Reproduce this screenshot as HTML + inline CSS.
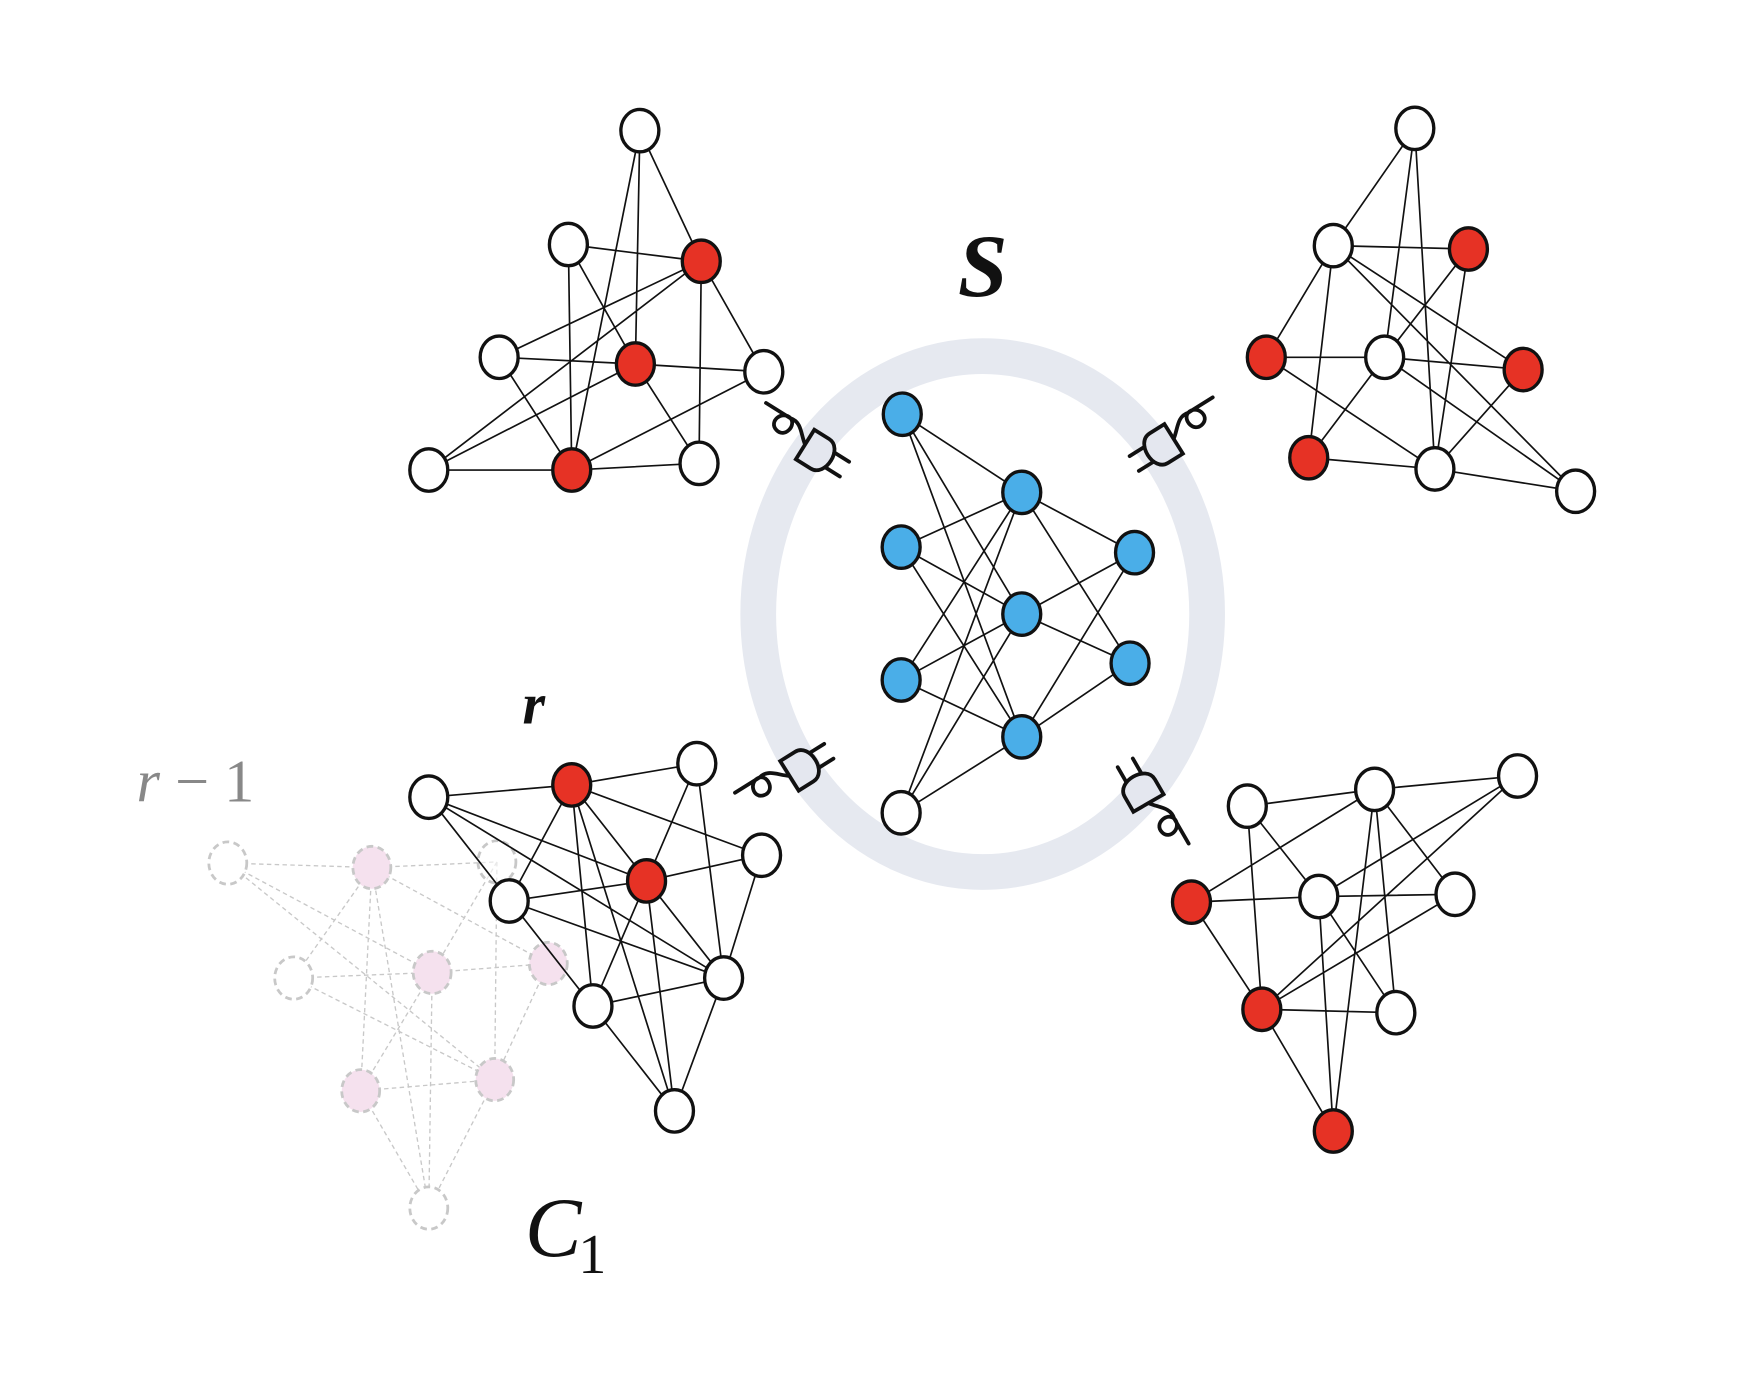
<!DOCTYPE html>
<html><head><meta charset="utf-8"><style>html,body{margin:0;padding:0;background:#fff}svg{display:block}</style></head>
<body>
<svg width="1742" height="1380" viewBox="0 0 1560 1236" preserveAspectRatio="none" xmlns="http://www.w3.org/2000/svg">
<defs>
<g id="plug" fill="none" stroke="#111" stroke-width="2.6" stroke-linecap="round">
<path d="M-48,-10 L-28,-10 M-28,-10 C-36,-12 -40,0 -32,2 C-24,4 -22,-8 -28,-10 C-20,-12 -16,-4 -10,0"/>
<path d="M-10,-12 L2,-12 C14,-12 14,12 2,12 L-10,12 Z" fill="#e4e7ef"/>
<path d="M10,-6 L22,-6 M10,6 L22,6"/>
</g>
</defs>
<ellipse cx="880" cy="550" rx="201" ry="231" fill="none" stroke="#e6e9f0" stroke-width="32"/>

<g stroke="#c8c8c8" stroke-width="1.2" stroke-dasharray="4,3" fill="none">
<path d="M204,773L333,777M204,773L387,871M204,773L443,967M333,777L445,772M333,777L263,876M333,777L323,977M333,777L384,1082M333,777L491,863M445,772L387,871M445,772L443,967M263,876L387,871M263,876L443,967M387,871L491,863M387,871L323,977M387,871L384,1082M491,863L443,967M323,977L443,967M443,967L384,1082M323,977L384,1082"/>
</g>
<g stroke="#c8c8c8" stroke-width="2.5" stroke-dasharray="6,4">
<ellipse cx="204" cy="773" rx="17" ry="19" fill="#fff"/>
<ellipse cx="333" cy="777" rx="17" ry="19" fill="#f5e1ee"/>
<ellipse cx="445" cy="772" rx="17" ry="19" fill="#fff" fill-opacity="0.6"/>
<ellipse cx="263" cy="876" rx="17" ry="19" fill="#fff"/>
<ellipse cx="387" cy="871" rx="17" ry="19" fill="#f5e1ee"/>
<ellipse cx="491" cy="863" rx="17" ry="19" fill="#f5e1ee"/>
<ellipse cx="323" cy="977" rx="17" ry="19" fill="#f5e1ee"/>
<ellipse cx="443" cy="967" rx="17" ry="19" fill="#f5e1ee"/>
<ellipse cx="384" cy="1082" rx="17" ry="19" fill="#fff"/>
</g>

<g stroke="#111" stroke-width="1.5" fill="none">
<path d="M573,117L628,234M573,117L569,326M573,117L512,421M509,219L628,234M509,219L512,421M509,219L569,326M628,234L447,320M628,234L384,421M628,234L626,415M628,234L684,333M447,320L569,326M447,320L512,421M569,326L384,421M569,326L684,333M569,326L626,415M384,421L512,421M512,421L626,415M512,421L684,333"/>
<path d="M1267,115L1194,220M1267,115L1240,320M1267,115L1285,420M1194,220L1315,223M1194,220L1172,410M1194,220L1134,320M1194,220L1364,331M1194,220L1411,440M1315,223L1285,420M1315,223L1240,320M1134,320L1240,320M1134,320L1285,420M1240,320L1172,410M1240,320L1364,331M1240,320L1411,440M1364,331L1285,420M1172,410L1285,420M1285,420L1411,440"/>
<path d="M808,371L915,441M808,371L915,550M808,371L915,660M807,490L915,441M807,490L915,550M807,490L915,660M807,609L915,441M807,609L915,550M807,609L915,660M807,728L915,441M807,728L915,550M807,728L915,660M915,441L1016,495M915,441L1012,594M915,550L1016,495M915,550L1012,594M915,660L1016,495M915,660L1012,594"/>
<path d="M384,714L512,703M384,714L579,789M384,714L648,876M384,714L604,995M512,703L624,684M512,703L682,766M512,703L456,807M512,703L531,901M512,703L648,876M512,703L604,995M624,684L579,789M624,684L648,876M579,789L682,766M456,807L579,789M456,807L648,876M579,789L531,901M579,789L604,995M531,901L648,876M682,766L648,876M648,876L604,995"/>
<path d="M1117,722L1231,707M1231,707L1359,695M1117,722L1181,803M1117,722L1130,904M1231,707L1067,808M1231,707L1303,801M1231,707L1250,907M1231,707L1194,1013M1359,695L1130,904M1359,695L1181,803M1067,808L1181,803M1067,808L1130,904M1181,803L1303,801M1181,803L1194,1013M1181,803L1250,907M1303,801L1130,904M1130,904L1250,907M1130,904L1194,1013"/>
</g>

<g stroke="#111" stroke-width="3">
<ellipse cx="573" cy="117" rx="17" ry="19" fill="#fff"/>
<ellipse cx="509" cy="219" rx="17" ry="19" fill="#fff"/>
<ellipse cx="628" cy="234" rx="17" ry="19" fill="#e63225"/>
<ellipse cx="447" cy="320" rx="17" ry="19" fill="#fff"/>
<ellipse cx="569" cy="326" rx="17" ry="19" fill="#e63225"/>
<ellipse cx="684" cy="333" rx="17" ry="19" fill="#fff"/>
<ellipse cx="384" cy="421" rx="17" ry="19" fill="#fff"/>
<ellipse cx="512" cy="421" rx="17" ry="19" fill="#e63225"/>
<ellipse cx="626" cy="415" rx="17" ry="19" fill="#fff"/>

<ellipse cx="1267" cy="115" rx="17" ry="19" fill="#fff"/>
<ellipse cx="1194" cy="220" rx="17" ry="19" fill="#fff"/>
<ellipse cx="1315" cy="223" rx="17" ry="19" fill="#e63225"/>
<ellipse cx="1134" cy="320" rx="17" ry="19" fill="#e63225"/>
<ellipse cx="1240" cy="320" rx="17" ry="19" fill="#fff"/>
<ellipse cx="1364" cy="331" rx="17" ry="19" fill="#e63225"/>
<ellipse cx="1172" cy="410" rx="17" ry="19" fill="#e63225"/>
<ellipse cx="1285" cy="420" rx="17" ry="19" fill="#fff"/>
<ellipse cx="1411" cy="440" rx="17" ry="19" fill="#fff"/>

<ellipse cx="808" cy="371" rx="17" ry="19" fill="#4aaee8"/>
<ellipse cx="807" cy="490" rx="17" ry="19" fill="#4aaee8"/>
<ellipse cx="807" cy="609" rx="17" ry="19" fill="#4aaee8"/>
<ellipse cx="807" cy="728" rx="17" ry="19" fill="#fff"/>
<ellipse cx="915" cy="441" rx="17" ry="19" fill="#4aaee8"/>
<ellipse cx="915" cy="550" rx="17" ry="19" fill="#4aaee8"/>
<ellipse cx="915" cy="660" rx="17" ry="19" fill="#4aaee8"/>
<ellipse cx="1016" cy="495" rx="17" ry="19" fill="#4aaee8"/>
<ellipse cx="1012" cy="594" rx="17" ry="19" fill="#4aaee8"/>

<ellipse cx="384" cy="714" rx="17" ry="19" fill="#fff"/>
<ellipse cx="512" cy="703" rx="17" ry="19" fill="#e63225"/>
<ellipse cx="624" cy="684" rx="17" ry="19" fill="#fff"/>
<ellipse cx="456" cy="807" rx="17" ry="19" fill="#fff"/>
<ellipse cx="579" cy="789" rx="17" ry="19" fill="#e63225"/>
<ellipse cx="682" cy="766" rx="17" ry="19" fill="#fff"/>
<ellipse cx="531" cy="901" rx="17" ry="19" fill="#fff"/>
<ellipse cx="648" cy="876" rx="17" ry="19" fill="#fff"/>
<ellipse cx="604" cy="995" rx="17" ry="19" fill="#fff"/>

<ellipse cx="1117" cy="722" rx="17" ry="19" fill="#fff"/>
<ellipse cx="1231" cy="707" rx="17" ry="19" fill="#fff"/>
<ellipse cx="1359" cy="695" rx="17" ry="19" fill="#fff"/>
<ellipse cx="1067" cy="808" rx="17" ry="19" fill="#e63225"/>
<ellipse cx="1181" cy="803" rx="17" ry="19" fill="#fff"/>
<ellipse cx="1303" cy="801" rx="17" ry="19" fill="#fff"/>
<ellipse cx="1130" cy="904" rx="17" ry="19" fill="#e63225"/>
<ellipse cx="1250" cy="907" rx="17" ry="19" fill="#fff"/>
<ellipse cx="1194" cy="1013" rx="17" ry="19" fill="#e63225"/>
</g>

<use href="#plug" transform="translate(732,405) rotate(32) scale(1.3)"/>
<use href="#plug" transform="translate(1040,400) scale(-1,1) rotate(32) scale(1.3)"/>
<use href="#plug" transform="translate(718,688) rotate(-32) scale(1.3)"/>
<use href="#plug" transform="translate(1022,708) rotate(-120) scale(1.3,-1.3)"/>

<text x="880" y="265" text-anchor="middle" font-family="Liberation Serif, serif" font-style="italic" font-weight="bold" font-size="80" fill="#111">S</text>
<text x="478" y="648" text-anchor="middle" font-family="Liberation Serif, serif" font-style="italic" font-weight="bold" font-size="52" fill="#111">r</text>
<text x="175" y="718" text-anchor="middle" font-family="Liberation Serif, serif" font-size="54" fill="#888"><tspan font-style="italic">r</tspan> − 1</text>
<text x="470" y="1125" font-family="Liberation Serif, serif" font-style="italic" font-size="76" fill="#111">C</text>
<text x="518" y="1140" font-family="Liberation Serif, serif" font-size="50" fill="#111">1</text>
</svg>
</body></html>
